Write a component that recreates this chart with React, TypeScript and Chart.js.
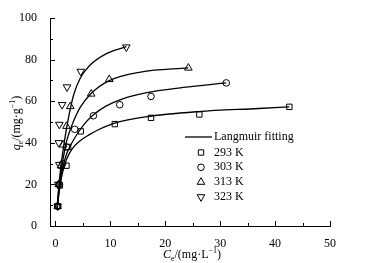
import React, { useEffect, useRef } from "react";
import { Chart, registerables } from "chart.js";

Chart.register(...registerables);

// ---- data ----
const SERIES_LABELS = ["293 K", "303 K", "313 K", "323 K"];
const FIT_LABEL = "Langmuir fitting";

const C293 = [0.4, 0.8, 2.0, 2.3, 4.6, 10.8, 17.4, 26.2, 42.6];
const Q293 = [9.5, 19.5, 29, 38, 45.5, 49, 52, 53.6, 57.3];
const C303 = [0.4, 0.7, 1.3, 2.0, 3.5, 6.9, 11.7, 17.4, 31.1];
const Q303 = [9.5, 20, 30, 38, 46.5, 53, 58.3, 62.3, 68.8];
const C313 = [0.4, 0.6, 1.0, 1.4, 2.0, 2.7, 6.5, 9.8, 24.2];
const Q313 = [9.5, 20, 29, 39, 48, 57.5, 63.5, 70.5, 76];
const C323 = [0.4, 0.5, 0.7, 0.6, 0.7, 1.2, 2.1, 4.6, 12.9];
const Q323 = [9.5, 20, 29.5, 40, 48.8, 58.3, 66.8, 74.3, 86];

const FIT_C293 = [0.3, 0.6, 1, 1.5, 2, 3, 4.5, 6.1, 7.9, 10.9, 16.4, 26, 37, 42.6];
const FIT_Q293 = [8, 15, 22, 28, 32, 37, 41, 43.8, 46.4, 49.6, 52.5, 55, 56.5, 57.3];
const FIT_C303 = [0.3, 0.6, 1, 1.5, 2, 3, 3.9, 5.1, 6.7, 9.1, 12.1, 16.4, 23.3, 31.1];
const FIT_Q303 = [8, 16, 24, 30, 34.5, 40, 44, 48.5, 53, 57.5, 61, 64, 66.6, 68.8];
const FIT_C313 = [0.3, 0.6, 1, 1.5, 2.1, 3, 4.5, 6.4, 9.7, 15.5, 24.2];
const FIT_Q313 = [8, 17, 26, 34, 41.5, 48.5, 57, 63.5, 69.8, 74, 76];
const FIT_C323 = [0.3, 0.6, 1, 1.7, 2.4, 3.3, 4.5, 6.1, 9.1, 12.9];
const FIT_Q323 = [9, 19, 29, 42, 52.5, 63, 71, 76.8, 82.6, 86.2];

const X_TICKS = [0, 5, 10, 15, 20, 25, 30, 35, 40, 45, 50];
const X_LABELS = [0, 10, 20, 30, 40, 50];
const Y_TICKS = [0, 10, 20, 30, 40, 50, 60, 70, 80, 90, 100];
const Y_LABELS = [0, 20, 40, 60, 80, 100];

// ---- styling ----
const FAMILY = '"Liberation Serif", "Times New Roman", serif';
const MARKERS = ["rect", "circle", "triangle", "triangle"];
const ROTATIONS = [0, 0, 0, 180];
const RADII = [3.8, 3.3, 4.4, 4.4];

type Part = { t: string; it?: boolean; sub?: boolean; sup?: boolean };

function partFont(p: Part, size: number) {
  const s = p.sub || p.sup ? Math.round(size * 0.68) : size;
  return `${p.it ? "italic " : ""}${s}px ${FAMILY}`;
}

function drawRich(ctx: CanvasRenderingContext2D, parts: Part[], cx: number, cy: number, size: number) {
  ctx.textBaseline = "middle";
  ctx.textAlign = "left";
  let w = 0;
  for (const p of parts) {
    ctx.font = partFont(p, size);
    w += ctx.measureText(p.t).width;
  }
  let x = cx - w / 2;
  for (const p of parts) {
    ctx.font = partFont(p, size);
    const dy = p.sub ? size * 0.3 : p.sup ? -size * 0.35 : 0;
    ctx.fillText(p.t, x, cy + dy);
    x += ctx.measureText(p.t).width;
  }
}

function drawMarker(ctx: CanvasRenderingContext2D, style: string, rot: number, r: number, x: number, y: number) {
  ctx.beginPath();
  if (style === "rect") {
    const s = r * Math.SQRT1_2;
    ctx.rect(x - s, y - s, 2 * s, 2 * s);
  } else if (style === "circle") {
    ctx.arc(x, y, r, 0, Math.PI * 2);
  } else {
    let rad = (rot * Math.PI) / 180;
    ctx.moveTo(x + Math.sin(rad) * r, y - Math.cos(rad) * r);
    rad += (2 * Math.PI) / 3;
    ctx.lineTo(x + Math.sin(rad) * r, y - Math.cos(rad) * r);
    rad += (2 * Math.PI) / 3;
    ctx.lineTo(x + Math.sin(rad) * r, y - Math.cos(rad) * r);
    ctx.closePath();
  }
  ctx.stroke();
}

const decorPlugin = {
  id: "decor",
  afterDraw(chart: any) {
    const ctx: CanvasRenderingContext2D = chart.ctx;
    const xs = chart.scales.x;
    const ys = chart.scales.y;
    const area = chart.chartArea;
    ctx.save();
    ctx.strokeStyle = "#000";
    ctx.fillStyle = "#000";
    ctx.lineWidth = 1;
    // inward tick marks
    for (const v of X_TICKS) {
      const px = Math.round(xs.getPixelForValue(v)) + 0.5;
      const len = X_LABELS.includes(v) ? 5 : 3;
      ctx.beginPath();
      ctx.moveTo(px, area.bottom);
      ctx.lineTo(px, area.bottom - len);
      ctx.stroke();
    }
    for (const v of Y_TICKS) {
      const py = Math.round(ys.getPixelForValue(v)) + 0.5;
      const len = Y_LABELS.includes(v) ? 5 : 3;
      ctx.beginPath();
      ctx.moveTo(area.left, py);
      ctx.lineTo(area.left + len, py);
      ctx.stroke();
    }
    // axis titles
    drawRich(
      ctx,
      [{ t: "C", it: true }, { t: "e", sub: true }, { t: "/(mg·L" }, { t: "−1", sup: true }, { t: ")" }],
      192,
      255,
      12
    );
    ctx.save();
    ctx.translate(17, 123);
    ctx.rotate(-Math.PI / 2);
    drawRich(
      ctx,
      [{ t: "q", it: true }, { t: "e", sub: true }, { t: "/(mg·g" }, { t: "−1", sup: true }, { t: ")" }],
      0,
      0,
      12
    );
    ctx.restore();
    // legend
    const lx = 214;
    ctx.font = `12px ${FAMILY}`;
    ctx.textAlign = "left";
    ctx.textBaseline = "middle";
    ctx.lineWidth = 1.3;
    ctx.beginPath();
    ctx.moveTo(185, 137);
    ctx.lineTo(212, 137);
    ctx.stroke();
    ctx.fillText(FIT_LABEL, lx, 137);
    ctx.lineWidth = 1;
    SERIES_LABELS.forEach((lab, i) => {
      const y = 152.5 + i * 14.8;
      drawMarker(ctx, MARKERS[i], ROTATIONS[i], RADII[i], 201, y);
      ctx.fillText(lab, lx, y);
    });
    ctx.restore();
  },
};

function pts(xs: number[], ys: number[]) {
  return xs.map((x, i) => ({ x, y: ys[i] }));
}

export default function App() {
  const ref = useRef<HTMLCanvasElement | null>(null);

  useEffect(() => {
    if (!ref.current) return;
    const fits = [
      pts(FIT_C293, FIT_Q293),
      pts(FIT_C303, FIT_Q303),
      pts(FIT_C313, FIT_Q313),
      pts(FIT_C323, FIT_Q323),
    ];
    const obs = [pts(C293, Q293), pts(C303, Q303), pts(C313, Q313), pts(C323, Q323)];
    const datasets: any[] = [];
    fits.forEach((d, i) => {
      datasets.push({
        label: FIT_LABEL + " " + SERIES_LABELS[i],
        data: d,
        showLine: true,
        borderColor: "#000",
        borderWidth: 1.3,
        pointRadius: 0,
        cubicInterpolationMode: "monotone",
        fill: false,
      });
    });
    obs.forEach((d, i) => {
      datasets.push({
        label: SERIES_LABELS[i],
        data: d,
        showLine: false,
        pointStyle: MARKERS[i],
        rotation: ROTATIONS[i],
        pointRadius: RADII[i],
        pointBorderColor: "#000",
        pointBackgroundColor: "rgba(0,0,0,0)",
        pointBorderWidth: 1,
      });
    });

    const chart = new Chart(ref.current, {
      type: "scatter",
      data: { datasets },
      plugins: [decorPlugin],
      options: {
        animation: false,
        responsive: false,
        devicePixelRatio: 1,
        layout: { padding: { left: 0, top: 18, right: 61, bottom: 0 } },
        plugins: { legend: { display: false }, tooltip: { enabled: false } },
        scales: {
          x: {
            type: "linear",
            min: -1,
            max: 50,
            afterBuildTicks: (s: any) => {
              s.ticks = X_TICKS.map((v) => ({ value: v }));
            },
            afterFit: (s: any) => {
              s.height = 37;
            },
            ticks: {
              autoSkip: false,
              maxRotation: 0,
              padding: 3,
              color: "#000",
              font: { family: FAMILY, size: 12 },
              callback: (v: any) => (X_LABELS.includes(Number(v)) ? String(v) : ""),
            },
            grid: { display: false },
            border: { display: true, color: "#000", width: 1 },
          },
          y: {
            type: "linear",
            min: 0,
            max: 100,
            afterBuildTicks: (s: any) => {
              s.ticks = Y_TICKS.map((v) => ({ value: v }));
            },
            afterFit: (s: any) => {
              s.width = 50;
            },
            ticks: {
              autoSkip: false,
              padding: 5,
              color: "#000",
              font: { family: FAMILY, size: 12 },
              callback: (v: any) => (Y_LABELS.includes(Number(v)) ? String(v) : ""),
            },
            grid: { display: false },
            border: { display: true, color: "#000", width: 1 },
          },
        },
      } as any,
    });
    return () => chart.destroy();
  }, []);

  return (
    <div style={{ position: "fixed", left: 0, top: 0, width: 391, height: 263, background: "#fff" }}>
      <canvas ref={ref} width={391} height={263} style={{ display: "block" }} />
    </div>
  );
}
